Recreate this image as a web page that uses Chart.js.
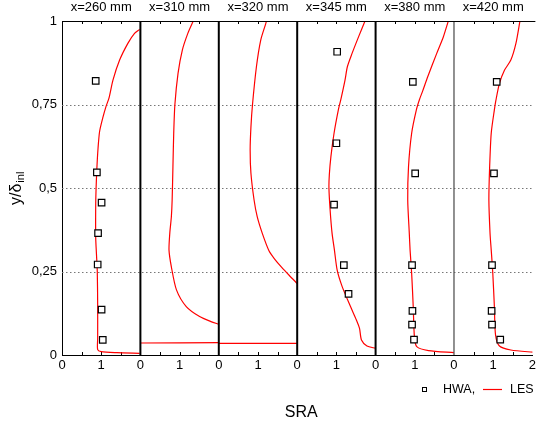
<!DOCTYPE html>
<html>
<head>
<meta charset="utf-8">
<script src="https://cdn.jsdelivr.net/npm/chart.js@4/dist/chart.umd.min.js"></script>
<style>
html,body{margin:0;padding:0;background:#fff;}
#wrap{width:539px;height:427px;position:relative;}
</style>
</head>
<body>
<div id="wrap"><canvas id="c" width="539" height="427"></canvas></div>
<script>
// Panel titles (streamwise stations)
const panelTitles = ['x=260 mm','x=310 mm','x=320 mm','x=345 mm','x=380 mm','x=420 mm'];
// Axis tick values
const yTicks = [0, 0.25, 0.5, 0.75, 1];
const yTickLabels = ['0', '0,25', '0,5', '0,75', '1'];

// HWA measurements [SRA, y/delta]
const hwa260 = [[0.86,0.821],[0.89,0.547],[1.01,0.456],[0.92,0.365],[0.91,0.271],[1.01,0.136],[1.04,0.045]];
const hwa310 = [];
const hwa320 = [];
const hwa345 = [[1.02,0.908],[1.0,0.634],[0.94,0.45],[1.19,0.269],[1.31,0.183]];
const hwa380 = [[0.95,0.818],[1.01,0.544],[0.93,0.269],[0.94,0.132],[0.93,0.091],[0.98,0.046]];
const hwa420 = [[1.09,0.818],[1.02,0.544],[0.97,0.269],[0.96,0.132],[0.97,0.091],[1.18,0.046]];

// LES profiles [SRA, y/delta]
const les260 = [[1.98,0.005],[1.4,0.007],[1.0,0.01],[0.91,0.016],[0.91,0.05],[0.91,0.15],[0.9,0.25],[0.88,0.3],[0.86,0.35],[0.86,0.45],[0.87,0.5],[0.89,0.56],[0.92,0.62],[0.96,0.67],[1.04,0.71],[1.12,0.743],[1.2,0.77],[1.3,0.823],[1.47,0.883],[1.68,0.933],[1.85,0.963],[1.98,0.975]];
const les310a = [[0,0.036],[2,0.037]];
const les310b = [[2.0,0.092],[1.8,0.1],[1.51,0.115],[1.17,0.145],[0.92,0.195],[0.79,0.264],[0.73,0.314],[0.75,0.365],[0.79,0.414],[0.81,0.464],[0.83,0.564],[0.85,0.664],[0.88,0.75],[0.96,0.843],[1.07,0.913],[1.21,0.963],[1.36,1.003]];
const les320a = [[0,0.035],[2,0.035]];
const les320b = [[2.0,0.214],[1.8,0.238],[1.6,0.263],[1.42,0.288],[1.28,0.312],[1.11,0.364],[0.98,0.414],[0.90,0.464],[0.82,0.544],[0.80,0.614],[0.82,0.683],[0.86,0.75],[0.96,0.863],[1.07,0.943],[1.2,0.993],[1.26,1.02]];
const les345 = [[2.0,0.02],[1.78,0.027],[1.64,0.045],[1.59,0.08],[1.51,0.105],[1.36,0.145],[1.15,0.204],[1.02,0.254],[0.95,0.314],[0.89,0.364],[0.84,0.434],[0.81,0.5],[0.82,0.54],[0.86,0.594],[0.94,0.664],[1.05,0.734],[1.11,0.763],[1.22,0.823],[1.28,0.863],[1.40,0.903],[1.57,0.954],[1.73,1.0]];
const les380 = [[2.0,0.007],[1.35,0.013],[1.05,0.025],[0.99,0.055],[0.96,0.145],[0.92,0.245],[0.88,0.314],[0.86,0.364],[0.82,0.464],[0.84,0.564],[0.92,0.664],[1.04,0.734],[1.12,0.765],[1.2,0.79],[1.33,0.833],[1.56,0.903],[1.73,0.953],[1.85,0.998]];
const les420 = [[2.05,0.008],[1.45,0.015],[1.16,0.027],[1.06,0.06],[1.03,0.145],[0.99,0.245],[0.95,0.314],[0.92,0.364],[0.89,0.464],[0.91,0.564],[0.95,0.664],[1.03,0.734],[1.07,0.763],[1.16,0.813],[1.29,0.853],[1.45,0.883],[1.58,0.933],[1.68,0.998]];

const panelSpan = 2;
const hwaPanels = [hwa260, hwa310, hwa320, hwa345, hwa380, hwa420];
const lesPanels = [[les260],[les310a,les310b],[les320a,les320b],[les345],[les380],[les420]];

const FONT = "'Liberation Sans', Arial, Helvetica, sans-serif";

const datasets = [];
lesPanels.forEach((segs, i) => {
  segs.forEach(seg => {
    datasets.push({
      label: 'LES',
      data: seg.map(p => ({x: p[0] + i*panelSpan, y: p[1]})),
      showLine: true,
      borderColor: '#ff0000',
      borderWidth: 1.2,
      pointRadius: 0,
      tension: 0.25,
      fill: false,
      order: 2
    });
  });
});
hwaPanels.forEach((pts, i) => {
  if (!pts.length) return;
  datasets.push({
    label: 'HWA',
    data: pts.map(p => ({x: p[0] + i*panelSpan, y: p[1]})),
    showLine: false,
    pointStyle: 'rect',
    pointRadius: 4.6,
    pointBorderWidth: 1.2,
    pointBackgroundColor: '#ffffff',
    pointBorderColor: '#000000',
    order: 1
  });
});

const nPanels = panelTitles.length;
const xMax = nPanels * panelSpan;

const decor = {
  id: 'decor',
  beforeDatasetsDraw(chart) {
    const {ctx, chartArea: a, scales: {x, y}} = chart;
    ctx.save();
    // dotted horizontal grid
    ctx.strokeStyle = '#777';
    ctx.lineWidth = 1;
    ctx.setLineDash([1.5, 2.5]);
    yTicks.forEach(v => {
      if (v <= 0 || v >= 1) return;
      const py = Math.round(y.getPixelForValue(v)) + 0.5;
      ctx.beginPath(); ctx.moveTo(a.left, py); ctx.lineTo(a.right, py); ctx.stroke();
    });
    ctx.setLineDash([]);
    // inward minor ticks at top and bottom
    ctx.strokeStyle = '#000';
    ctx.lineWidth = 1;
    for (let v = 0.5; v < xMax; v += 0.5) {
      if (Math.abs(v % panelSpan) < 1e-9) continue;
      const px = Math.round(x.getPixelForValue(v)) + 0.5;
      ctx.beginPath(); ctx.moveTo(px, a.bottom); ctx.lineTo(px, a.bottom - 3); ctx.stroke();
      ctx.beginPath(); ctx.moveTo(px, a.top); ctx.lineTo(px, a.top + 3); ctx.stroke();
    }
    ctx.restore();
  },
  afterDatasetsDraw(chart) {
    const {ctx, chartArea: a, scales: {x, y}} = chart;
    ctx.save();
    // panel separators
    for (let i = 1; i < nPanels; i++) {
      const px = x.getPixelForValue(i * panelSpan);
      const last = (i === nPanels - 1);
      ctx.strokeStyle = last ? '#555' : '#000';
      ctx.lineWidth = last ? 1.3 : 2;
      ctx.beginPath(); ctx.moveTo(px, a.top); ctx.lineTo(px, a.bottom); ctx.stroke();
    }
    // top border
    ctx.strokeStyle = '#000';
    ctx.lineWidth = 1;
    ctx.beginPath(); ctx.moveTo(a.left, a.top + 0.5); ctx.lineTo(a.right + 3, a.top + 0.5); ctx.stroke();
    // panel titles
    ctx.fillStyle = '#000';
    ctx.font = '13px ' + FONT;
    ctx.textAlign = 'center';
    ctx.textBaseline = 'middle';
    panelTitles.forEach((t, i) => {
      ctx.fillText(t, x.getPixelForValue(i * panelSpan + panelSpan / 2), 7);
    });
    // x title
    ctx.font = '16px ' + FONT;
    ctx.fillText('SRA', (a.left + a.right) / 2 + 4, 413);
    // y title with subscript
    ctx.save();
    ctx.translate(21, 205);
    ctx.rotate(-Math.PI / 2);
    ctx.textAlign = 'left';
    ctx.textBaseline = 'alphabetic';
    ctx.font = '16px ' + FONT;
    const main = 'y/\u03b4';
    ctx.fillText(main, 0, 0);
    const w = ctx.measureText(main).width;
    ctx.font = '11px ' + FONT;
    ctx.fillText('inl', w + 1, 3);
    ctx.restore();
    // legend
    ctx.lineWidth = 1;
    ctx.strokeStyle = '#000';
    ctx.fillStyle = '#fff';
    ctx.fillRect(422.5, 387.5, 4, 4);
    ctx.strokeRect(422.5, 387.5, 4, 4);
    ctx.fillStyle = '#000';
    ctx.font = '12.5px ' + FONT;
    ctx.textAlign = 'left';
    ctx.textBaseline = 'middle';
    ctx.fillText('HWA,', 443, 389.5);
    ctx.strokeStyle = '#ff0000';
    ctx.lineWidth = 1.2;
    ctx.beginPath(); ctx.moveTo(483, 389.5); ctx.lineTo(502, 389.5); ctx.stroke();
    ctx.fillText('LES', 510, 389.5);
    ctx.restore();
  }
};

new Chart(document.getElementById('c'), {
  type: 'scatter',
  data: { datasets },
  plugins: [decor],
  options: {
    responsive: false,
    animation: false,
    events: [],
    layout: { padding: { left: 0, right: 4, top: 21, bottom: 0 } },
    plugins: { legend: { display: false }, tooltip: { enabled: false } },
    scales: {
      x: {
        type: 'linear',
        min: 0, max: xMax,
        afterFit(s) { s.height = 72; },
        afterBuildTicks(s) {
          const t = [];
          for (let v = 0; v <= xMax; v++) t.push({value: v});
          s.ticks = t;
        },
        ticks: {
          autoSkip: false, maxRotation: 0, padding: 3,
          color: '#000',
          font: { family: FONT, size: 13 },
          callback(v) { return v === xMax ? String(panelSpan) : String(v % panelSpan); }
        },
        grid: { display: false, drawTicks: false },
        border: { display: true, color: '#000', width: 1 }
      },
      y: {
        type: 'linear',
        min: 0, max: 1,
        afterFit(s) { s.width = 62; },
        afterBuildTicks(s) { s.ticks = yTicks.map(v => ({value: v})); },
        ticks: {
          padding: 5,
          color: '#000',
          font: { family: FONT, size: 13 },
          callback(v) { const k = yTicks.indexOf(v); return k >= 0 ? yTickLabels[k] : ''; }
        },
        grid: { display: false, drawTicks: false },
        border: { display: true, color: '#000', width: 1 }
      }
    }
  }
});
</script>
</body>
</html>
